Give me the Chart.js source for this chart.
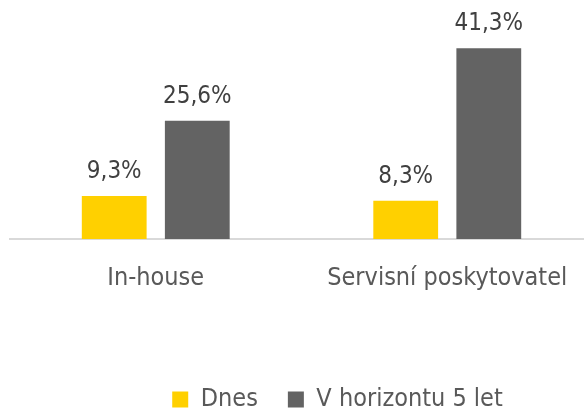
<!DOCTYPE html>
<html>
<head>
<meta charset="utf-8">
<script src="https://cdn.jsdelivr.net/npm/chart.js@4"></script>
<style>
  body { margin: 0; overflow: hidden; background: #fff; }
  #wrap { width: 593px; height: 411px; }
</style>
</head>
<body>
<div id="wrap"><canvas id="myChart" width="593" height="411"></canvas></div>
<script>
// data
const categories = ['In-house', 'Servisní poskytovatel'];
const seriesNames = ['Dnes', 'V horizontu 5 let'];
const dnesValues = [9.3, 8.3];
const horizontValues = [25.6, 41.3];

const FONT = "'DejaVu Sans Condensed', 'Liberation Sans Narrow', sans-serif";

/* draws the value above each bar, with a decimal comma */
const valueLabels = {
    id: 'valueLabels',
    afterDatasetsDraw(chart) {
        const { ctx } = chart;
        ctx.save();
        ctx.font = '24px ' + FONT;
        ctx.fillStyle = '#404040';
        ctx.textAlign = 'center';
        ctx.textBaseline = 'middle';
        chart.data.datasets.forEach((ds, i) => {
            chart.getDatasetMeta(i).data.forEach((bar, j) => {
                const txt = ds.data[j].toFixed(1).replace('.', ',') + '%';
                ctx.fillText(txt, bar.x, bar.y - 24);
            });
        });
        ctx.restore();
    }
};

// the legend in the original sits right of centre and lower down
const legendShift = {
    id: 'legendShift',
    afterLayout(chart) {
        const lg = chart.legend;
        lg.left += 36;
        lg.right += 36;
        lg.top += 40;
        lg.bottom += 40;
    }
};

var ctx = document.getElementById('myChart');
var myChart = new Chart(ctx, {
    type: 'bar',
    data: {
        labels: categories,
        datasets: [{
            label: seriesNames[0],
            data: dnesValues,
            backgroundColor: '#FFD000',
            categoryPercentage: 0.57,
            barPercentage: 0.78
        }, {
            label: seriesNames[1],
            data: horizontValues,
            backgroundColor: '#636363',
            categoryPercentage: 0.57,
            barPercentage: 0.78
        }]
    },
    options: {
        responsive: false,
        animation: false,
        layout: {
            padding: { left: 10, right: 0, top: 8, bottom: 29 }
        },
        scales: {
            x: {
                grid: { display: false, drawTicks: false },
                border: { display: true, color: '#d9d9d9', width: 2 },
                ticks: {
                    color: '#595959',
                    padding: 24,
                    font: { family: FONT, size: 25 }
                }
            },
            y: {
                display: false,
                min: 0,
                max: 50
            }
        },
        plugins: {
            tooltip: { enabled: false },
            legend: {
                position: 'bottom',
                labels: {
                    color: '#595959',
                    boxWidth: 16,
                    boxHeight: 16,
                    padding: 30,
                    font: { family: FONT, size: 25 }
                }
            }
        }
    },
    plugins: [valueLabels, legendShift]
});
</script>
</body>
</html>
